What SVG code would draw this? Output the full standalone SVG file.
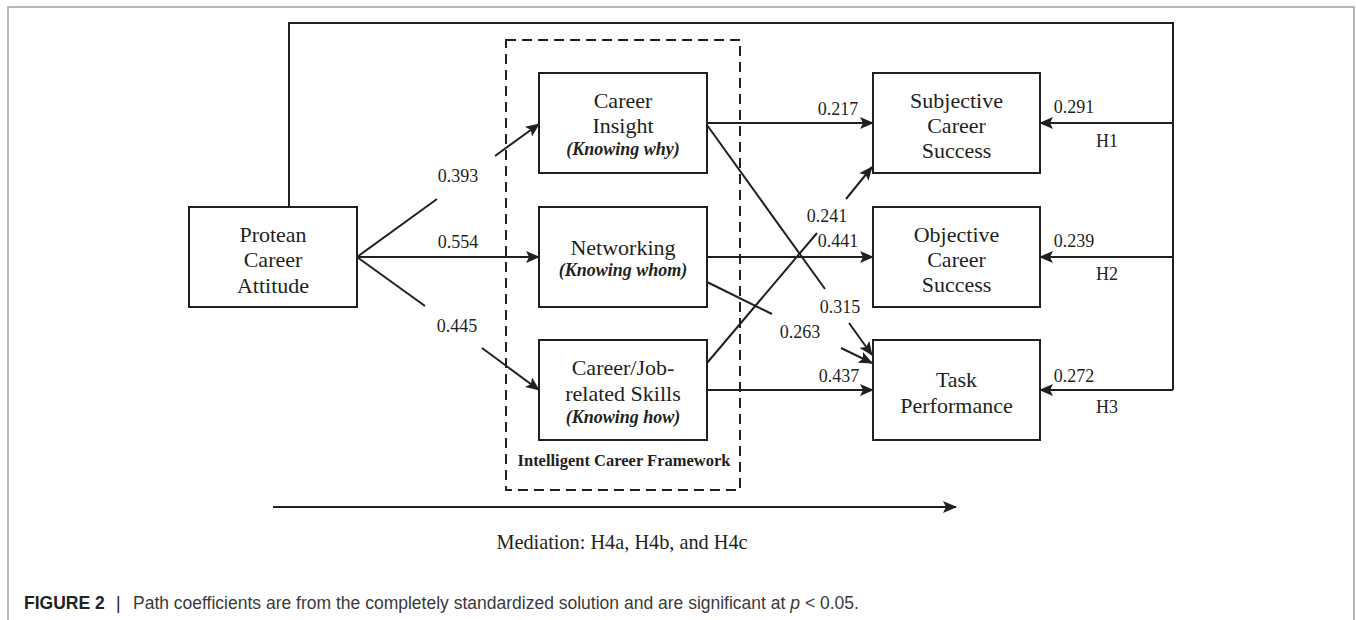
<svg xmlns="http://www.w3.org/2000/svg" width="1356" height="620" viewBox="0 0 1356 620">
<style>
.box{fill:#fff;stroke:#231f20;stroke-width:2}
.t{font-family:"Liberation Serif","Times New Roman",serif;font-size:22px;fill:#231f20;text-anchor:middle}
.k{font-family:"Liberation Serif","Times New Roman",serif;font-size:18px;font-weight:bold;font-style:italic;fill:#231f20;text-anchor:middle}
.n{font-family:"Liberation Serif","Times New Roman",serif;font-size:18px;fill:#231f20;text-anchor:middle}
.ln{fill:none;stroke:#231f20;stroke-width:2}
.ar{fill:none;stroke:#231f20;stroke-width:2;marker-end:url(#ah)}
.cap{font-family:"Liberation Sans",Arial,sans-serif;font-size:17.5px;fill:#3a3a3a}
</style>
<defs>
<marker id="ah" markerUnits="userSpaceOnUse" markerWidth="14" markerHeight="12" refX="13" refY="6" orient="auto">
<path d="M0,0 L14,6 L0,12 L3,6 Z" fill="#231f20"/>
</marker>
</defs>
<rect width="1356" height="620" fill="#fff"/>
<path d="M8,620 V7 H1354 V620" fill="none" stroke="#a0a0a0" stroke-width="1.5"/>

<g id="framework">
<rect x="506" y="40" width="234" height="450" fill="none" stroke="#231f20" stroke-width="2" stroke-dasharray="10 6"/>
<text x="624" y="466" font-family="Liberation Serif, Times New Roman, serif" font-size="16.5" font-weight="bold" fill="#231f20" text-anchor="middle">Intelligent Career Framework</text>
</g>

<g id="connectors">
<line class="ln" x1="357" y1="257" x2="437" y2="199"/>
<line class="ar" x1="495" y1="156" x2="539" y2="124"/>
<line class="ar" x1="357" y1="257" x2="539" y2="257"/>
<line class="ln" x1="357" y1="257" x2="425" y2="306"/>
<line class="ar" x1="482" y1="348" x2="539" y2="390"/>
<line class="ar" x1="707" y1="123" x2="873" y2="123"/>
<line class="ln" x1="707" y1="125" x2="825" y2="289"/>
<line class="ar" x1="849" y1="323" x2="872" y2="355"/>
<line class="ar" x1="707" y1="257" x2="873" y2="257"/>
<line class="ln" x1="707" y1="282" x2="772" y2="314"/>
<line class="ar" x1="841" y1="348" x2="872" y2="363"/>
<line class="ln" x1="707" y1="363" x2="817" y2="233"/>
<line class="ar" x1="846" y1="199" x2="872" y2="167"/>
<line class="ar" x1="707" y1="390" x2="873" y2="390"/>
<path class="ln" d="M289,207 V23 H1173 V390"/>
<line class="ar" x1="1173" y1="123" x2="1040" y2="123"/>
<line class="ar" x1="1173" y1="257" x2="1040" y2="257"/>
<line class="ar" x1="1173" y1="390" x2="1040" y2="390"/>
<line class="ar" x1="273" y1="507" x2="956" y2="507"/>
<text class="n" x="458" y="182">0.393</text>
<text class="n" x="458" y="248">0.554</text>
<text class="n" x="457" y="332">0.445</text>
<text class="n" x="838" y="115">0.217</text>
<text class="n" x="827" y="222">0.241</text>
<text class="n" x="838" y="247">0.441</text>
<text class="n" x="840" y="313">0.315</text>
<text class="n" x="800" y="338">0.263</text>
<text class="n" x="839" y="382">0.437</text>
<text class="n" x="1074" y="113">0.291</text>
<text class="n" x="1107" y="147">H1</text>
<text class="n" x="1074" y="247">0.239</text>
<text class="n" x="1107" y="280">H2</text>
<text class="n" x="1074" y="382">0.272</text>
<text class="n" x="1107" y="413">H3</text>
<text x="622" y="549" font-family="Liberation Serif, Times New Roman, serif" font-size="20.3" fill="#231f20" text-anchor="middle">Mediation: H4a, H4b, and H4c</text>
</g>

<g id="protean">
<rect class="box" x="189" y="207" width="168" height="100"/>
<text class="t" x="273" y="242">Protean</text>
<text class="t" x="273" y="267">Career</text>
<text class="t" x="273" y="293">Attitude</text>
</g>

<g id="insight">
<rect class="box" x="539" y="73" width="168" height="100"/>
<text class="t" x="623" y="108">Career</text>
<text class="t" x="623" y="133">Insight</text>
<text class="k" x="623" y="155">(Knowing why)</text>
</g>

<g id="networking">
<rect class="box" x="539" y="207" width="168" height="100"/>
<text class="t" x="623" y="255">Networking</text>
<text class="k" x="623" y="276">(Knowing whom)</text>
</g>

<g id="skills">
<rect class="box" x="539" y="340" width="168" height="100"/>
<text class="t" x="623" y="375">Career/Job-</text>
<text class="t" x="623" y="401">related Skills</text>
<text class="k" x="623" y="423">(Knowing how)</text>
</g>

<g id="subjective">
<rect class="box" x="873" y="73" width="167" height="100"/>
<text class="t" x="956.5" y="108">Subjective</text>
<text class="t" x="956.5" y="133">Career</text>
<text class="t" x="956.5" y="158">Success</text>
</g>

<g id="objective">
<rect class="box" x="873" y="207" width="167" height="100"/>
<text class="t" x="956.5" y="242">Objective</text>
<text class="t" x="956.5" y="267">Career</text>
<text class="t" x="956.5" y="292">Success</text>
</g>

<g id="task">
<rect class="box" x="873" y="340" width="167" height="100"/>
<text class="t" x="956.5" y="387">Task</text>
<text class="t" x="956.5" y="413">Performance</text>
</g>

<g id="caption">
<text class="cap" y="609"><tspan x="24" font-weight="bold" fill="#222">FIGURE 2</tspan><tspan x="116" fill="#222">|</tspan><tspan x="133">Path coefficients are from the completely standardized solution and are significant at <tspan font-style="italic">p</tspan> &lt; 0.05.</tspan></text>
</g>
</svg>
